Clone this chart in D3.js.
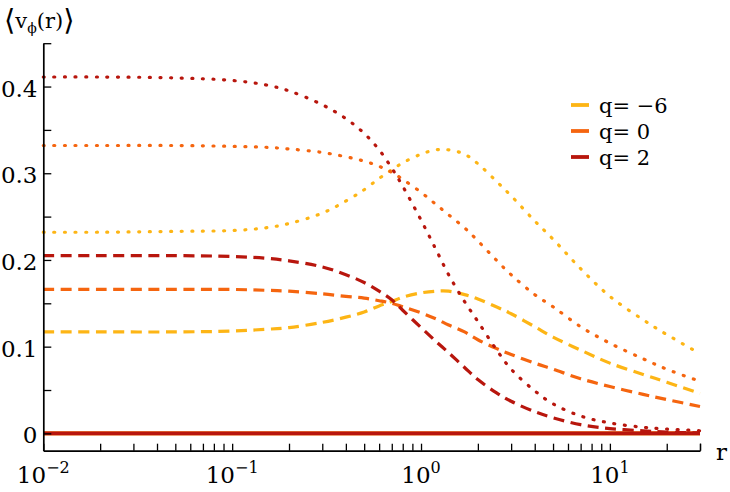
<!DOCTYPE html>
<html>
<head>
<meta charset="utf-8">
<script src="https://cdn.jsdelivr.net/npm/d3@7"></script>
<style>
  html, body { margin: 0; padding: 0; background: #fff; }
  svg { display: block; }
  text { font-family: "DejaVu Serif", "Liberation Serif", serif; fill: #000; }
</style>
</head>
<body>
<svg id="chart" width="730" height="492"></svg>
<script>
// ---------- data ----------
const r = [0.01, 0.02, 0.05, 0.1, 0.15, 0.2, 0.3, 0.4, 0.5, 0.6, 0.7, 0.8, 1.0, 1.2, 1.4, 1.7, 2.0, 2.5, 3.0, 4.0, 5.0, 7.0, 10, 15, 20, 30];

const qValues = [-6, 0, 2];
const qLabels = ["q= \u22126", "q= 0", "q= 2"];
const qColors = ["#FDB515", "#F5650F", "#B8160D"];

// dotted curves
const dotQm6 = [0.232, 0.232, 0.233, 0.234, 0.237, 0.242, 0.254, 0.268, 0.281, 0.294, 0.304, 0.312, 0.322, 0.327, 0.327, 0.322, 0.311, 0.291, 0.274, 0.245, 0.224, 0.190, 0.158, 0.131, 0.114, 0.092];
const dotQ0  = [0.332, 0.332, 0.332, 0.331, 0.330, 0.328, 0.324, 0.319, 0.314, 0.308, 0.301, 0.293, 0.278, 0.264, 0.252, 0.237, 0.222, 0.200, 0.183, 0.160, 0.146, 0.123, 0.104, 0.086, 0.074, 0.060];
const dotQ2  = [0.411, 0.411, 0.410, 0.407, 0.402, 0.395, 0.379, 0.363, 0.346, 0.327, 0.306, 0.285, 0.246, 0.212, 0.183, 0.152, 0.129, 0.097, 0.074, 0.049, 0.034, 0.020, 0.012, 0.007, 0.005, 0.003];

// dashed curves
const dashQm6 = [0.117, 0.117, 0.117, 0.118, 0.120, 0.122, 0.128, 0.134, 0.140, 0.147, 0.152, 0.157, 0.162, 0.164, 0.164, 0.160, 0.155, 0.146, 0.138, 0.123, 0.111, 0.096, 0.081, 0.068, 0.059, 0.046];
const dashQ0  = [0.166, 0.166, 0.166, 0.166, 0.165, 0.164, 0.161, 0.158, 0.156, 0.153, 0.150, 0.146, 0.139, 0.132, 0.125, 0.117, 0.108, 0.098, 0.091, 0.081, 0.074, 0.063, 0.054, 0.045, 0.039, 0.031];
const dashQ2  = [0.205, 0.205, 0.205, 0.204, 0.202, 0.199, 0.192, 0.183, 0.174, 0.164, 0.154, 0.142, 0.122, 0.106, 0.093, 0.076, 0.062, 0.047, 0.037, 0.025, 0.018, 0.010, 0.0055, 0.003, 0.0015, 0.0005];

// solid curves (all zero)
const solidQm6 = [0, 0, 0, 0, 0, 0, 0, 0, 0, 0, 0, 0, 0, 0, 0, 0, 0, 0, 0, 0, 0, 0, 0, 0, 0, 0];
const solidQ0  = [0, 0, 0, 0, 0, 0, 0, 0, 0, 0, 0, 0, 0, 0, 0, 0, 0, 0, 0, 0, 0, 0, 0, 0, 0, 0];
const solidQ2  = [0, 0, 0, 0, 0, 0, 0, 0, 0, 0, 0, 0, 0, 0, 0, 0, 0, 0, 0, 0, 0, 0, 0, 0, 0, 0];

const yTicks = [0, 0.05, 0.1, 0.15, 0.2, 0.25, 0.3, 0.35, 0.4, 0.45];
const yTickLabels = ["0", "", "0.1", "", "0.2", "", "0.3", "", "0.4", ""];
const xMajor = [0.01, 0.1, 1, 10];
const xMajorExp = ["\u22122", "\u22121", "0", "1"];

// ---------- drawing ----------
const svg = d3.select("#chart");
const x = d3.scaleLog().domain([0.01, 30]).range([43.3, 700]);
const y = d3.scaleLinear().domain([-0.02, 0.45]).range([450.7, 43.2]);

const styles = {
  dot:   { width: 3.2, dash: "1,9.6", cap: "round" },
  dash:  { width: 3.2, dash: "11,6.5", cap: "butt" },
  solid: { width: 3.6, dash: null, cap: "butt" }
};

const series = [
  { style: "solid", q: 0, v: solidQm6 },
  { style: "solid", q: 1, v: solidQ0 },
  { style: "solid", q: 2, v: solidQ2 },
  { style: "dash", q: 0, v: dashQm6 },
  { style: "dash", q: 1, v: dashQ0 },
  { style: "dash", q: 2, v: dashQ2 },
  { style: "dot", q: 0, v: dotQm6 },
  { style: "dot", q: 1, v: dotQ0 },
  { style: "dot", q: 2, v: dotQ2 }
];

const line = d3.line()
  .x(d => x(d[0]))
  .y(d => y(d[1]))
  .curve(d3.curveCatmullRom.alpha(0.5));

svg.append("g").selectAll("path")
  .data(series)
  .join("path")
  .attr("d", s => line(r.map((rv, i) => [rv, s.v[i]])))
  .attr("fill", "none")
  .attr("stroke", s => qColors[s.q])
  .attr("stroke-width", s => styles[s.style].width)
  .attr("stroke-dasharray", s => styles[s.style].dash)
  .attr("stroke-linecap", s => styles[s.style].cap);

// x axis
const xTicks = [];
for (let e = -2; e <= 1; e++) {
  for (let m = 1; m <= 9; m++) {
    const v = m * Math.pow(10, e);
    if (v <= 30.0001) xTicks.push(+v.toPrecision(3));
  }
}
xTicks.push(30);
const xAxis = svg.append("g")
  .attr("transform", `translate(0,${y(-0.02)})`)
  .call(d3.axisBottom(x).tickValues(xTicks).tickSizeInner(-7).tickSizeOuter(0).tickFormat(""));
xAxis.select(".domain").attr("stroke", "#000").attr("stroke-width", 1.7);
xAxis.selectAll(".tick line").attr("stroke", "#000").attr("stroke-width", 1.3);

// y axis
const yAxis = svg.append("g")
  .attr("transform", `translate(${x(0.01)},0)`)
  .call(d3.axisLeft(y).tickValues(yTicks).tickSizeInner(-8).tickSizeOuter(0).tickFormat(""));
yAxis.select(".domain").attr("stroke", "#000").attr("stroke-width", 1.7);
yAxis.selectAll(".tick line").attr("stroke", "#000").attr("stroke-width", 1.3);

// y tick labels
svg.append("g").selectAll("text")
  .data(yTicks.map((t, i) => ({ t, label: yTickLabels[i] })).filter(d => d.label))
  .join("text")
  .attr("x", 37.5)
  .attr("y", d => y(d.t) + 10)
  .attr("text-anchor", "end")
  .attr("font-size", 23)
  .text(d => d.label);

// x tick labels
const xl = svg.append("g").selectAll("text")
  .data(xMajor.map((t, i) => ({ t, exp: xMajorExp[i] })))
  .join("text")
  .attr("x", d => x(d.t))
  .attr("y", 483)
  .attr("text-anchor", "middle")
  .attr("font-size", 23);
xl.append("tspan").text("10");
xl.append("tspan").attr("dy", -10).attr("font-size", 16).text(d => d.exp);

// axis labels
svg.append("text").attr("x", 716).attr("y", 460).attr("font-size", 23).text("r");
const yt = svg.append("text").attr("x", 4).attr("y", 28).attr("font-size", 21);
yt.append("tspan").attr("font-size", 29).attr("dy", 2).text("\u27E8");
yt.append("tspan").attr("dy", -2).text("v");
yt.append("tspan").attr("dy", 5).attr("font-size", 14).text("\u03D5");
yt.append("tspan").attr("dy", -5).text("(r)");
yt.append("tspan").attr("font-size", 29).attr("dy", 2).text("\u27E9");

// legend
const legend = svg.append("g").selectAll("g")
  .data(qValues.map((q, i) => ({ q, i })))
  .join("g")
  .attr("transform", d => `translate(0,${105 + d.i * 26})`);
legend.append("line")
  .attr("x1", 571).attr("x2", 589)
  .attr("y1", 0).attr("y2", 0)
  .attr("stroke", d => qColors[d.i])
  .attr("stroke-width", 3.8);
legend.append("text")
  .attr("x", 599)
  .attr("y", 8)
  .attr("font-size", 21)
  .text(d => qLabels[d.i]);
</script>
</body>
</html>
